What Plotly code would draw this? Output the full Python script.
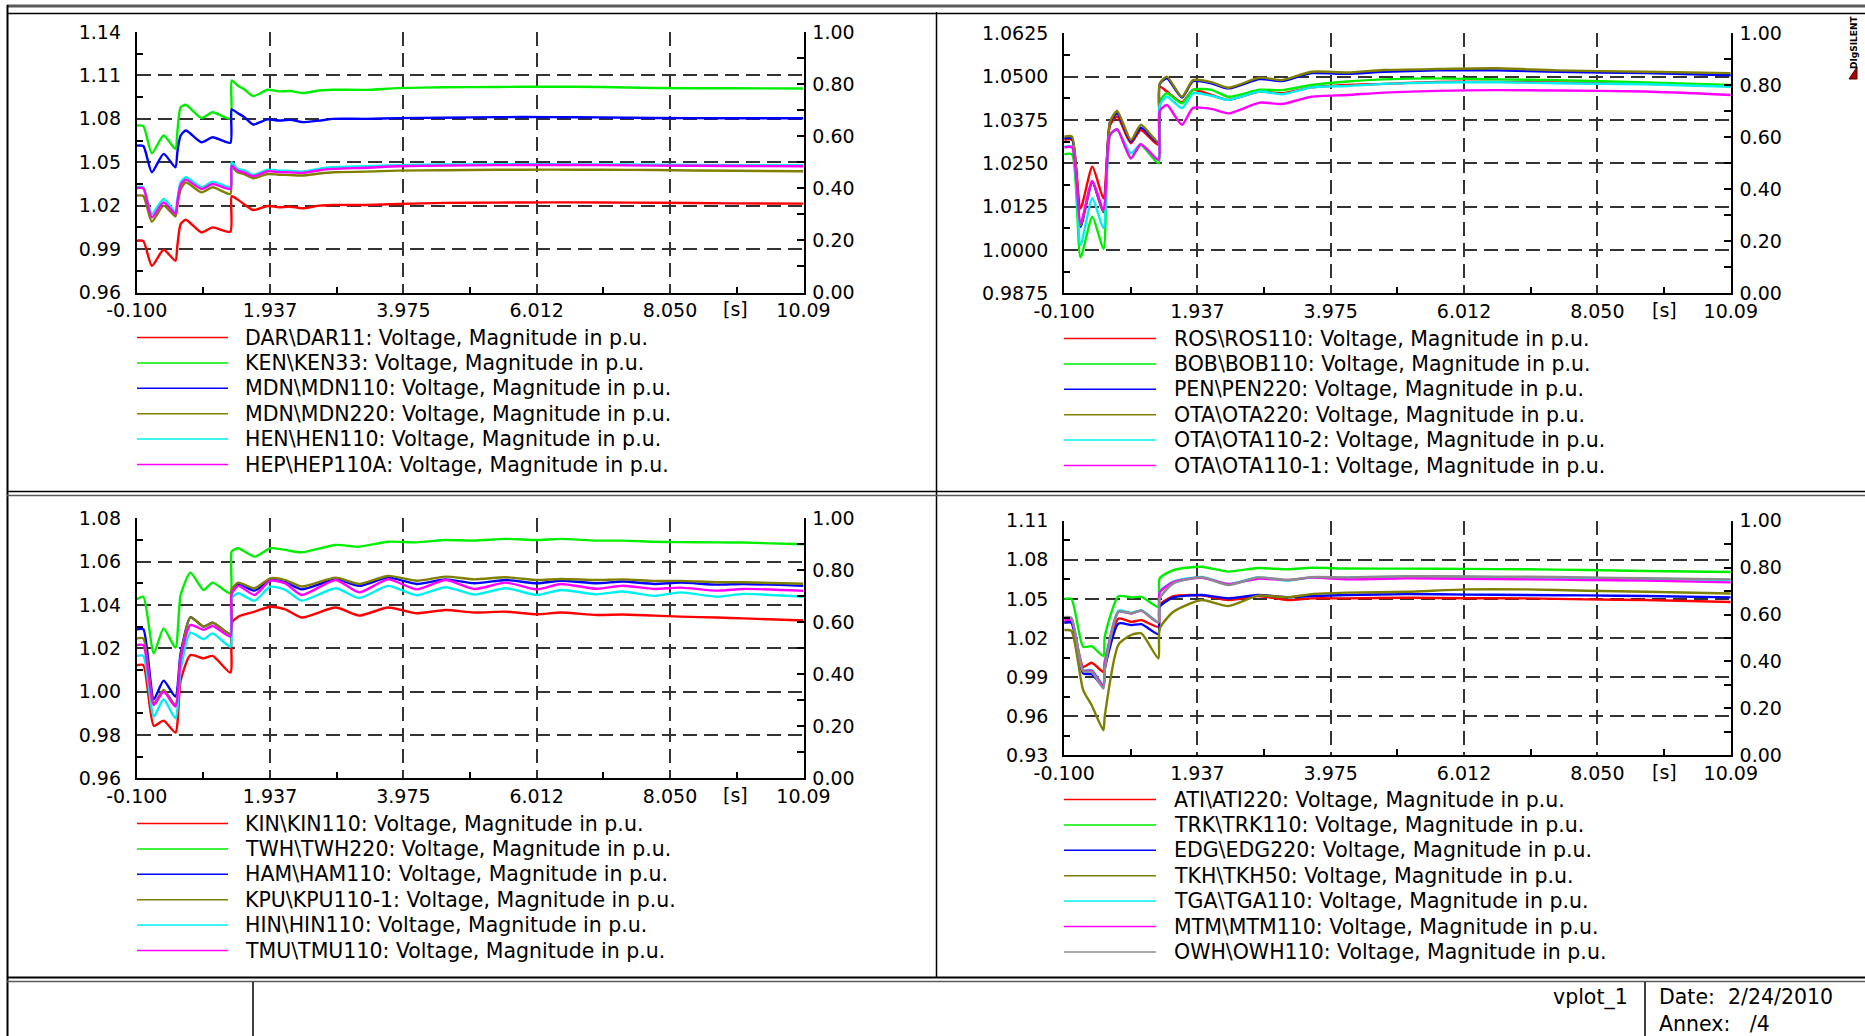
import plotly.graph_objects as go

W, H = 1865, 1036

RED, GREEN, BLUE, OLIVE = "#ff0000", "#00ee00", "#0000ff", "#808000"
CYAN, MAGENTA, GREY = "#00f0f0", "#ff00ff", "#8c8c8c"

# ---------------- shared axis ticks ----------------
X_TICK_VALUES = [-0.100, 1.937, 3.975, 6.012, 8.050, 10.09]
X_TICK_LABELS = ["-0.100", "1.937", "3.975", "6.012", "8.050", "10.09"]
R_TICK_VALUES = [0.0, 0.2, 0.4, 0.6, 0.8, 1.0]
R_TICK_LABELS = ["0.00", "0.20", "0.40", "0.60", "0.80", "1.00"]

# ---------------- plot 1: DAR / KEN / MDN / HEN / HEP ----------------
T1 = [-0.10, 0.00, 0.13, 0.31, 0.49, 0.52, 0.57, 0.65, 0.89, 1.06, 1.33, 1.35, 1.44, 1.54, 1.68,
      1.90, 2.07, 2.25, 2.43, 2.69, 2.90, 3.40, 3.90, 4.60, 5.40, 6.20, 7.00, 7.80, 9.00, 10.09]
DAR11 = [0.9958, 0.9955, 0.9785, 0.9895, 0.9819, 0.9923, 1.0073, 1.0103, 1.0015, 1.0050, 1.0020, 1.0265, 1.0242, 1.0210, 1.0170,
         1.0198, 1.0189, 1.0193, 1.0182, 1.0200, 1.0205, 1.0205, 1.0212, 1.0219, 1.0221, 1.0223, 1.0222, 1.0220, 1.0216, 1.0214]
KEN33 = [1.0754, 1.0750, 1.0562, 1.0685, 1.0592, 1.0710, 1.0880, 1.0897, 1.0805, 1.0846, 1.0802, 1.1065, 1.1030, 1.1005, 1.0957,
         1.1001, 1.0990, 1.0992, 1.0978, 1.0996, 1.1001, 1.1000, 1.1012, 1.1018, 1.1020, 1.1022, 1.1020, 1.1013, 1.1011, 1.1010]
MDN110 = [1.0615, 1.0612, 1.0431, 1.0558, 1.0465, 1.0570, 1.0685, 1.0719, 1.0638, 1.0673, 1.0634, 1.0865, 1.0840, 1.0813, 1.0761,
          1.0796, 1.0788, 1.0793, 1.0777, 1.0788, 1.0800, 1.0800, 1.0805, 1.0808, 1.0812, 1.0812, 1.0810, 1.0806, 1.0804, 1.0804]
MDN220 = [1.0269, 1.0267, 1.0089, 1.0200, 1.0126, 1.0200, 1.0311, 1.0361, 1.0292, 1.0327, 1.0281, 1.0465, 1.0431, 1.0418, 1.0389,
          1.0419, 1.0414, 1.0412, 1.0408, 1.0422, 1.0431, 1.0435, 1.0442, 1.0445, 1.0448, 1.0449, 1.0448, 1.0446, 1.0441, 1.0438]
HEN110 = [1.0329, 1.0327, 1.0142, 1.0246, 1.0158, 1.0240, 1.0361, 1.0396, 1.0327, 1.0366, 1.0327, 1.0500, 1.0454, 1.0445, 1.0412,
          1.0449, 1.0442, 1.0440, 1.0435, 1.0455, 1.0465, 1.0472, 1.0480, 1.0484, 1.0486, 1.0486, 1.0485, 1.0483, 1.0480, 1.0479]
HEP110A = [1.0322, 1.0320, 1.0119, 1.0223, 1.0142, 1.0225, 1.0343, 1.0380, 1.0315, 1.0350, 1.0315, 1.0477, 1.0442, 1.0430, 1.0403,
           1.0438, 1.0432, 1.0430, 1.0426, 1.0445, 1.0454, 1.0462, 1.0472, 1.0477, 1.0480, 1.0481, 1.0480, 1.0477, 1.0474, 1.0472]
Y1_TICKS = [0.96, 0.99, 1.02, 1.05, 1.08, 1.11, 1.14]
Y1_LABELS = ["0.96", "0.99", "1.02", "1.05", "1.08", "1.11", "1.14"]

# ---------------- plot 2: ROS / BOB / PEN / OTA ----------------
T2 = [-0.10, 0.02, 0.15, 0.33, 0.50, 0.60, 0.71, 0.92, 1.07, 1.34, 1.36, 1.47, 1.70,
      1.87, 2.15, 2.41, 2.89, 3.23, 3.68, 4.23, 4.78, 5.60, 6.51, 7.42, 8.79, 10.09]
ROS110 = [1.0318, 1.0318, 1.0120, 1.0240, 1.0149, 1.0360, 1.0385, 1.0308, 1.0346, 1.0303, 1.0471, 1.0457, 1.0426,
          1.0462, 1.0447, 1.0433, 1.0457, 1.0452, 1.0469, 1.0476, 1.0479, 1.0485, 1.0485, 1.0483, 1.0479, 1.0473]
BOB110 = [1.0276, 1.0276, 0.9979, 1.0096, 1.0003, 1.0332, 1.0348, 1.0265, 1.0303, 1.0250, 1.0428, 1.0452, 1.0423,
          1.0462, 1.0462, 1.0442, 1.0462, 1.0461, 1.0476, 1.0486, 1.0492, 1.0495, 1.0492, 1.0490, 1.0483, 1.0476]
PEN220 = [1.0322, 1.0322, 1.0067, 1.0195, 1.0109, 1.0368, 1.0394, 1.0313, 1.0353, 1.0310, 1.0478, 1.0495, 1.0440,
          1.0487, 1.0481, 1.0466, 1.0493, 1.0487, 1.0510, 1.0508, 1.0514, 1.0518, 1.0518, 1.0514, 1.0510, 1.0504]
OTA220 = [1.0327, 1.0327, 1.0072, 1.0197, 1.0111, 1.0370, 1.0401, 1.0317, 1.0361, 1.0312, 1.0480, 1.0500, 1.0442,
          1.0490, 1.0484, 1.0468, 1.0497, 1.0490, 1.0514, 1.0512, 1.0519, 1.0522, 1.0524, 1.0518, 1.0514, 1.0510]
OTA110_2 = [1.0298, 1.0298, 1.0014, 1.0149, 1.0063, 1.0332, 1.0348, 1.0279, 1.0305, 1.0260, 1.0418, 1.0442, 1.0409,
            1.0452, 1.0445, 1.0433, 1.0457, 1.0449, 1.0469, 1.0473, 1.0479, 1.0483, 1.0484, 1.0481, 1.0478, 1.0471]
OTA110_1 = [1.0296, 1.0296, 1.0077, 1.0199, 1.0115, 1.0332, 1.0348, 1.0264, 1.0305, 1.0260, 1.0401, 1.0418, 1.0361,
            1.0410, 1.0407, 1.0394, 1.0425, 1.0421, 1.0442, 1.0447, 1.0454, 1.0459, 1.0461, 1.0460, 1.0457, 1.0447]
Y2_TICKS = [0.9875, 1.0, 1.0125, 1.025, 1.0375, 1.05, 1.0625]
Y2_LABELS = ["0.9875", "1.0000", "1.0125", "1.0250", "1.0375", "1.0500", "1.0625"]

# ---------------- plot 3: KIN / TWH / HAM / KPU / HIN / TMU ----------------
T3 = [-0.10, 0.00, 0.16, 0.31, 0.49, 0.57, 0.72, 0.92, 1.06, 1.33, 1.35, 1.45, 1.70, 1.94, 2.17, 2.42,
      2.94, 3.30, 3.74, 4.18, 4.62, 5.06, 5.54, 6.02, 6.38, 6.93, 7.33, 7.81, 8.21, 8.77, 9.17, 10.09]
KIN110 = [1.0122, 1.0122, 0.9842, 0.9866, 0.9811, 1.0050, 1.0169, 1.0154, 1.0165, 1.0088, 1.0315, 1.0346, 1.0369, 1.0392, 1.0380, 1.0342,
          1.0388, 1.0351, 1.0388, 1.0362, 1.0377, 1.0365, 1.0369, 1.0357, 1.0365, 1.0354, 1.0356, 1.0351, 1.0346, 1.0342, 1.0338, 1.0328]
TWH220 = [1.0426, 1.0438, 1.0177, 1.0292, 1.0203, 1.0446, 1.0549, 1.0469, 1.0503, 1.0454, 1.0646, 1.0662, 1.0623, 1.0662, 1.0654, 1.0643,
          1.0677, 1.0669, 1.0692, 1.0689, 1.0700, 1.0697, 1.0705, 1.0700, 1.0705, 1.0697, 1.0697, 1.0692, 1.0690, 1.0689, 1.0688, 1.0680]
HAM110 = [1.0288, 1.0288, 0.9965, 1.0051, 0.9977, 1.0177, 1.0343, 1.0300, 1.0318, 1.0266, 1.0466, 1.0497, 1.0466, 1.0515, 1.0505, 1.0472,
          1.0518, 1.0488, 1.0526, 1.0497, 1.0518, 1.0500, 1.0515, 1.0500, 1.0512, 1.0500, 1.0508, 1.0497, 1.0503, 1.0494, 1.0497, 1.0488]
KPU110_1 = [1.0246, 1.0246, 0.9946, 1.0008, 0.9938, 1.0160, 1.0343, 1.0300, 1.0318, 1.0266, 1.0470, 1.0503, 1.0477, 1.0523, 1.0515, 1.0485,
            1.0526, 1.0497, 1.0534, 1.0512, 1.0531, 1.0518, 1.0528, 1.0515, 1.0520, 1.0515, 1.0518, 1.0511, 1.0511, 1.0505, 1.0505, 1.0498]
HIN110 = [1.0165, 1.0165, 0.9885, 0.9965, 0.9877, 1.0100, 1.0272, 1.0242, 1.0269, 1.0208, 1.0431, 1.0454, 1.0420, 1.0484, 1.0470, 1.0420,
          1.0477, 1.0432, 1.0488, 1.0445, 1.0482, 1.0448, 1.0477, 1.0446, 1.0469, 1.0449, 1.0462, 1.0442, 1.0458, 1.0438, 1.0451, 1.0438]
TMU110 = [1.0215, 1.0215, 0.9938, 1.0000, 0.9931, 1.0150, 1.0308, 1.0285, 1.0303, 1.0254, 1.0450, 1.0488, 1.0446, 1.0512, 1.0500, 1.0446,
          1.0515, 1.0458, 1.0518, 1.0472, 1.0515, 1.0474, 1.0503, 1.0472, 1.0497, 1.0475, 1.0489, 1.0474, 1.0480, 1.0466, 1.0474, 1.0465]
Y3_TICKS = [0.96, 0.98, 1.00, 1.02, 1.04, 1.06, 1.08]
Y3_LABELS = ["0.96", "0.98", "1.00", "1.02", "1.04", "1.06", "1.08"]

# ---------------- plot 4: ATI / TRK / EDG / TKH / TGA / MTM / OWH ----------------
T4 = [-0.10, 0.01, 0.19, 0.32, 0.50, 0.52, 0.73, 0.93, 1.08, 1.34, 1.36, 1.57,
      2.00, 2.41, 2.86, 3.32, 3.68, 4.23, 5.14, 6.05, 6.96, 7.88, 8.79, 10.09]
ATI220 = [1.0325, 1.0325, 0.9979, 1.0010, 0.9940, 1.0020, 1.0350, 1.0324, 1.0337, 1.0286, 1.0452, 1.0521,
          1.0527, 1.0491, 1.0522, 1.0491, 1.0504, 1.0504, 1.0509, 1.0505, 1.0504, 1.0496, 1.0491, 1.0476]
TRK110 = [1.0500, 1.0500, 1.0132, 1.0137, 1.0061, 1.0209, 1.0521, 1.0511, 1.0516, 1.0440, 1.0657, 1.0721,
          1.0747, 1.0709, 1.0737, 1.0727, 1.0739, 1.0733, 1.0732, 1.0730, 1.0727, 1.0722, 1.0714, 1.0706]
EDG220 = [1.0317, 1.0317, 0.9928, 0.9922, 0.9830, 0.9960, 1.0311, 1.0299, 1.0306, 1.0230, 1.0440, 1.0511,
          1.0530, 1.0504, 1.0530, 1.0512, 1.0522, 1.0530, 1.0537, 1.0533, 1.0530, 1.0527, 1.0522, 1.0512]
TKH50 = [1.0261, 1.0255, 0.9800, 0.9684, 0.9492, 0.9600, 1.0150, 1.0225, 1.0235, 1.0043, 1.0273, 1.0401,
         1.0491, 1.0445, 1.0525, 1.0512, 1.0537, 1.0548, 1.0555, 1.0573, 1.0573, 1.0563, 1.0555, 1.0542]
TGA110 = [1.0351, 1.0351, 0.9953, 0.9953, 0.9838, 1.0000, 1.0409, 1.0393, 1.0414, 1.0324, 1.0555, 1.0632,
          1.0668, 1.0614, 1.0665, 1.0640, 1.0665, 1.0663, 1.0670, 1.0670, 1.0663, 1.0660, 1.0655, 1.0645]
MTM110 = [1.0338, 1.0338, 0.9950, 0.9948, 0.9830, 0.9990, 1.0400, 1.0388, 1.0410, 1.0318, 1.0550, 1.0628,
          1.0662, 1.0614, 1.0655, 1.0645, 1.0663, 1.0650, 1.0658, 1.0655, 1.0650, 1.0645, 1.0640, 1.0627]
OWH110 = [1.0360, 1.0355, 0.9945, 0.9940, 0.9812, 0.9960, 1.0400, 1.0390, 1.0410, 1.0320, 1.0503, 1.0619,
          1.0665, 1.0606, 1.0665, 1.0645, 1.0667, 1.0665, 1.0675, 1.0672, 1.0670, 1.0665, 1.0658, 1.0650]
Y4_TICKS = [0.93, 0.96, 0.99, 1.02, 1.05, 1.08, 1.11]
Y4_LABELS = ["0.93", "0.96", "0.99", "1.02", "1.05", "1.08", "1.11"]

SUFFIX = ": Voltage, Magnitude in p.u."

# plot boxes in page pixels: left, right, top, bottom; legend anchor (line x0, line x1, text x, first row y)
panels = [
    dict(t=T1, yticks=Y1_TICKS, ylabels=Y1_LABELS, box=(136.8, 803.5, 32.0, 292.5),
         leg=(137, 228, 243, 337.5), sx=735, sy=309,
         series=[("DAR\\DAR11", DAR11, RED), ("KEN\\KEN33", KEN33, GREEN), ("MDN\\MDN110", MDN110, BLUE),
                 ("MDN\\MDN220", MDN220, OLIVE), ("HEN\\HEN110", HEN110, CYAN), ("HEP\\HEP110A", HEP110A, MAGENTA)]),
    dict(t=T2, yticks=Y2_TICKS, ylabels=Y2_LABELS, box=(1064.2, 1730.8, 33.3, 293.3),
         leg=(1064, 1156, 1172, 338.5), sx=1664, sy=310,
         series=[("ROS\\ROS110", ROS110, RED), ("BOB\\BOB110", BOB110, GREEN), ("PEN\\PEN220", PEN220, BLUE),
                 ("OTA\\OTA220", OTA220, OLIVE), ("OTA\\OTA110-2", OTA110_2, CYAN), ("OTA\\OTA110-1", OTA110_1, MAGENTA)]),
    dict(t=T3, yticks=Y3_TICKS, ylabels=Y3_LABELS, box=(136.8, 803.5, 518.3, 778.3),
         leg=(137, 228, 243, 823.5), sx=735, sy=795,
         series=[("KIN\\KIN110", KIN110, RED), ("TWH\\TWH220", TWH220, GREEN), ("HAM\\HAM110", HAM110, BLUE),
                 ("KPU\\KPU110-1", KPU110_1, OLIVE), ("HIN\\HIN110", HIN110, CYAN), ("TMU\\TMU110", TMU110, MAGENTA)]),
    dict(t=T4, yticks=Y4_TICKS, ylabels=Y4_LABELS, box=(1064.2, 1730.8, 520.7, 755.3),
         leg=(1064, 1156, 1172, 799.5), sx=1664, sy=772,
         series=[("ATI\\ATI220", ATI220, RED), ("TRK\\TRK110", TRK110, GREEN), ("EDG\\EDG220", EDG220, BLUE),
                 ("TKH\\TKH50", TKH50, OLIVE), ("TGA\\TGA110", TGA110, CYAN), ("MTM\\MTM110", MTM110, MAGENTA),
                 ("OWH\\OWH110", OWH110, GREY)]),
]
LEG_STEP = 25.4


def px_x(p):
    return p / W


def px_y(p):
    return 1 - p / H


def mids(v):
    return [(a + b) / 2 for a, b in zip(v[:-1], v[1:])]


TICK_FONT = dict(family="DejaVu Sans", size=19, color="black")
TEXT_FONT = dict(family="DejaVu Sans", size=20.5, color="black")
GRID = dict(showgrid=True, gridcolor="#333333", gridwidth=1.5, griddash="14px,7px")

fig = go.Figure()
layout = dict(width=W, height=H, margin=dict(l=0, r=0, t=0, b=0, pad=0, autoexpand=False),
              paper_bgcolor="white", plot_bgcolor="white", showlegend=False)
shapes, annotations = [], []

for i, p in enumerate(panels, start=1):
    sfx = "" if i == 1 else str(i)
    xref, yref, rref = "x" + sfx, "y" + sfx, "y" + str(i + 4)
    x0, x1, y0, y1 = p["box"]
    yt = p["yticks"]

    layout["xaxis" + sfx] = dict(
        domain=[px_x(x0), px_x(x1)], anchor=yref, range=[-0.1, 10.09], automargin=False,
        tickmode="array", tickvals=X_TICK_VALUES, ticktext=X_TICK_LABELS, ticks="",
        showline=True, linecolor="black", linewidth=2, zeroline=False,
        tickfont=TICK_FONT, ticklabelstandoff=0,
        minor=dict(tickmode="array", tickvals=mids(X_TICK_VALUES), ticks="inside",
                   ticklen=6, tickwidth=1.5, tickcolor="black", showgrid=False),
        **GRID)
    layout["yaxis" + sfx] = dict(
        domain=[px_y(y1), px_y(y0)], anchor=xref, range=[yt[0], yt[-1]], automargin=False,
        tickmode="array", tickvals=yt, ticktext=p["ylabels"], ticks="",
        showline=True, linecolor="black", linewidth=2, zeroline=False,
        tickfont=TICK_FONT, ticklabelstandoff=10,
        minor=dict(tickmode="array", tickvals=mids(yt), ticks="inside",
                   ticklen=6, tickwidth=1.5, tickcolor="black", showgrid=False),
        **GRID)
    layout["yaxis" + str(i + 4)] = dict(
        overlaying=yref, side="right", anchor=xref, range=[0, 1], automargin=False,
        tickmode="array", tickvals=R_TICK_VALUES, ticktext=R_TICK_LABELS,
        ticks="inside", ticklen=7, tickwidth=1.5, tickcolor="black",
        showline=True, linecolor="black", linewidth=2, showgrid=False, zeroline=False,
        tickfont=TICK_FONT, ticklabelstandoff=3,
        minor=dict(tickmode="array", tickvals=mids(R_TICK_VALUES), ticks="inside",
                   ticklen=7, tickwidth=1.5, tickcolor="black", showgrid=False))

    # right-hand scale carries no curve; a hidden point keeps the axis alive
    fig.add_trace(go.Scatter(x=[p["t"][0]], y=[0], xaxis=xref, yaxis=rref, mode="markers",
                             marker=dict(opacity=0), hoverinfo="skip"))

    lx0, lx1, tx, ly = p["leg"]
    for k, (name, vals, color) in enumerate(p["series"]):
        fig.add_trace(go.Scatter(
            x=p["t"], y=vals, xaxis=xref, yaxis=yref, mode="lines", name=name + SUFFIX,
            line=dict(color=color, width=2.4, shape="spline", smoothing=0.6), hoverinfo="skip"))
        yy = ly + k * LEG_STEP
        shapes.append(dict(type="line", xref="paper", yref="paper", x0=px_x(lx0), x1=px_x(lx1),
                           y0=px_y(yy), y1=px_y(yy), line=dict(color=color, width=1.5)))
        annotations.append(dict(text=name + SUFFIX, xref="paper", yref="paper", x=px_x(tx), y=px_y(yy),
                                xanchor="left", yanchor="middle", showarrow=False, font=TEXT_FONT))

    annotations.append(dict(text="[s]", xref="paper", yref="paper", x=px_x(p["sx"]), y=px_y(p["sy"]),
                            xanchor="center", yanchor="middle", showarrow=False, font=TICK_FONT))


# ---------------- page frame ----------------
def hline(y, xa, xb, color, width):
    return dict(type="line", xref="paper", yref="paper", x0=px_x(xa), x1=px_x(xb),
                y0=px_y(y), y1=px_y(y), line=dict(color=color, width=width))


def vline(x, ya, yb, color, width):
    return dict(type="line", xref="paper", yref="paper", x0=px_x(x), x1=px_x(x),
                y0=px_y(ya), y1=px_y(yb), line=dict(color=color, width=width))


shapes += [
    hline(6, 7, W, "#5a5a5a", 3),
    hline(13.5, 7, W, "black", 1.5),
    vline(7.5, 5, H, "black", 2),
    vline(936.5, 12, 978, "black", 1.5),
    hline(491.5, 7, W, "black", 1.5),
    hline(495.5, 7, W, "#5a5a5a", 1.5),
    hline(977.5, 7, W, "black", 2),
    hline(981.5, 7, W, "#5a5a5a", 1.5),
    vline(253, 982, H, "black", 1.5),
    vline(1645, 982, H, "black", 1.5),
    # logo wedge
    dict(type="path", xref="paper", yref="paper",
         path="M {:.5f} {:.5f} L {:.5f} {:.5f} L {:.5f} {:.5f} Z".format(
             px_x(1857), px_y(67), px_x(1857), px_y(79), px_x(1849), px_y(79)),
         fillcolor="#b00000", line=dict(color="#400000", width=1)),
]

annotations += [
    dict(text="vplot_1", xref="paper", yref="paper", x=px_x(1630), y=px_y(997),
         xanchor="right", yanchor="middle", showarrow=False, font=TEXT_FONT),
    dict(text="Date:  2/24/2010", xref="paper", yref="paper", x=px_x(1657), y=px_y(997),
         xanchor="left", yanchor="middle", showarrow=False, font=TEXT_FONT),
    dict(text="Annex:   /4", xref="paper", yref="paper", x=px_x(1657), y=px_y(1024),
         xanchor="left", yanchor="middle", showarrow=False, font=TEXT_FONT),
    dict(text="<b>DIgSILENT</b>", xref="paper", yref="paper", x=px_x(1854), y=px_y(42),
         xanchor="center", yanchor="middle", textangle=-90, showarrow=False,
         font=dict(family="DejaVu Sans", size=9, color="black")),
]

layout["shapes"] = shapes
layout["annotations"] = annotations
fig.update_layout(**layout)

fig.write_html("out.html", config={"displayModeBar": False})
